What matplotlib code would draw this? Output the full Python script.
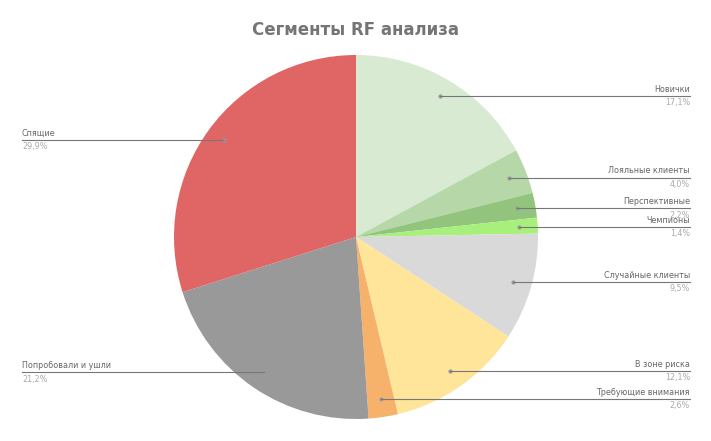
import matplotlib
matplotlib.use("Agg")
import matplotlib.pyplot as plt
import numpy as np

labels = ["Новички", "Лояльные клиенты", "Перспективные", "Чемпионы", "Случайные клиенты",
          "В зоне риска", "Требующие внимания", "Попробовали и ушли", "Спящие"]
values = [17.1, 4.0, 2.2, 1.4, 9.5, 12.1, 2.6, 21.2, 29.9]
pct_text = ["17,1%", "4,0%", "2,2%", "1,4%", "9,5%", "12,1%", "2,6%", "21,2%", "29,9%"]
colors = ["#d9ead3", "#b6d7a8", "#93c47d", "#a8f07c", "#d9d9d9", "#ffe599", "#f6b26b", "#999999", "#e06666"]

W, H = 711, 441
fig = plt.figure(figsize=(W/100, H/100), dpi=100)
cx, cy, r = 356, 237, 182
ax = fig.add_axes([(cx-r)/W, (H-cy-r)/H, 2*r/W, 2*r/H])
wedges, _ = ax.pie(values, colors=colors, startangle=90, counterclock=False, radius=1,
                   wedgeprops=dict(linewidth=0))
ax.set_xlim(-1, 1); ax.set_ylim(-1, 1); ax.set_aspect('auto'); ax.axis('off')

xr = (690-cx)/r
xl = -(cx-22)/r
for w, lab, p in zip(wedges, labels, pct_text):
    ang = np.deg2rad((w.theta1 + w.theta2)/2)
    px, py = 0.9*np.cos(ang), 0.9*np.sin(ang)
    ax.plot([px], [py], 'o', ms=2, color='#999999', clip_on=False)
    if px >= 0:
        x0, x1, tx, ha = px, xr, xr, 'right'
    else:
        x0, x1, tx, ha = xl, px, xl, 'left'
    ax.plot([x0, x1], [py, py], color='#777777', lw=0.8, clip_on=False)
    ax.text(tx, py+0.012, lab, ha=ha, va='bottom', fontsize=5.8, color='#666666')
    ax.text(tx, py-0.012, p, ha=ha, va='top', fontsize=5.8, color='#aaaaaa')

fig.text(0.5, 1-30/H, "Сегменты RF анализа", ha='center', va='center', fontsize=12,
         fontweight='bold', color='#757575')
fig.savefig("out.png", dpi=100)
